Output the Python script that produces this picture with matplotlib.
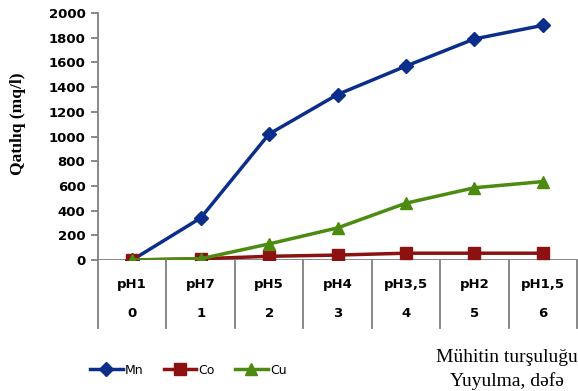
import numpy as np
import matplotlib.pyplot as plt

# Məlumatlar
ph_labels = ['pH1', 'pH7', 'pH5', 'pH4', 'pH3,5', 'pH2', 'pH1,5']
yuyulma = ['0', '1', '2', '3', '4', '5', '6']
mn = [0, 340, 1020, 1340, 1570, 1790, 1900]
co = [0, 10, 30, 40, 55, 55, 55]
cu = [0, 10, 130, 260, 460, 585, 635]

mavi = '#0B2E8A'
qirmizi = '#8C1111'
yasil = '#4C8A10'
boz = '#7F7F7F'

fig = plt.figure(figsize=(5.78, 3.91), dpi=100)
ax = fig.add_axes([98/578, 1-260/391, 479/578, 247/391])

x = np.arange(len(ph_labels))
ax.plot(x, mn, color=mavi, lw=2.5, marker='D', ms=7, label='Mn')
ax.plot(x, co, color=qirmizi, lw=2.5, marker='s', ms=8, label='Co')
ax.plot(x, cu, color=yasil, lw=2.5, marker='^', ms=8.5, label='Cu')

ax.set_xlim(-0.5, len(ph_labels) - 0.5)
ax.set_ylim(0, 2000)
ax.set_yticks(np.arange(0, 2001, 200))
ax.set_xticks([])
for s in ['top', 'right', 'bottom']:
    ax.spines[s].set_visible(False)
ax.spines['left'].set_color(boz)
ax.spines['left'].set_linewidth(1.3)
ax.tick_params(axis='y', direction='out', length=5, width=1.3, color=boz,
               labelsize=9.5, pad=4)
for t in ax.get_yticklabels():
    t.set_fontweight('bold')
ax.axhline(0, color=boz, lw=1.3, zorder=0)

# kateqoriya cədvəli oxun altında
tr = ax.get_xaxis_transform()
for b in np.arange(-0.5, len(ph_labels), 1.0):
    ax.plot([b, b], [0, -0.275], transform=tr, color=boz, lw=1.3, clip_on=False)
for i in x:
    ax.text(i, -0.098, ph_labels[i], transform=tr, ha='center', va='center',
            fontsize=9.5, fontweight='bold')
    ax.text(i, -0.215, yuyulma[i], transform=tr, ha='center', va='center',
            fontsize=9.5, fontweight='bold')

fig.text(0.032, 1-124/391, 'Qatılıq (mq/l)', rotation=90, ha='center', va='center',
         family='Liberation Serif', fontsize=12.5, fontweight='bold')
fig.text(0.999, 1-358/391, 'Mühitin turşuluğu', ha='right', va='center',
         family='Liberation Serif', fontsize=14)
fig.text(0.877, 1-381/391, 'Yuyulma, dəfə', ha='center', va='center',
         family='Liberation Serif', fontsize=14)

fig.legend(loc='center left', bbox_to_anchor=(0.145, 1-370/391), ncol=3,
           frameon=False, fontsize=9, handlelength=2.6, handletextpad=0.2,
           columnspacing=1.6, borderpad=0)

fig.savefig('out.png', dpi=100)
